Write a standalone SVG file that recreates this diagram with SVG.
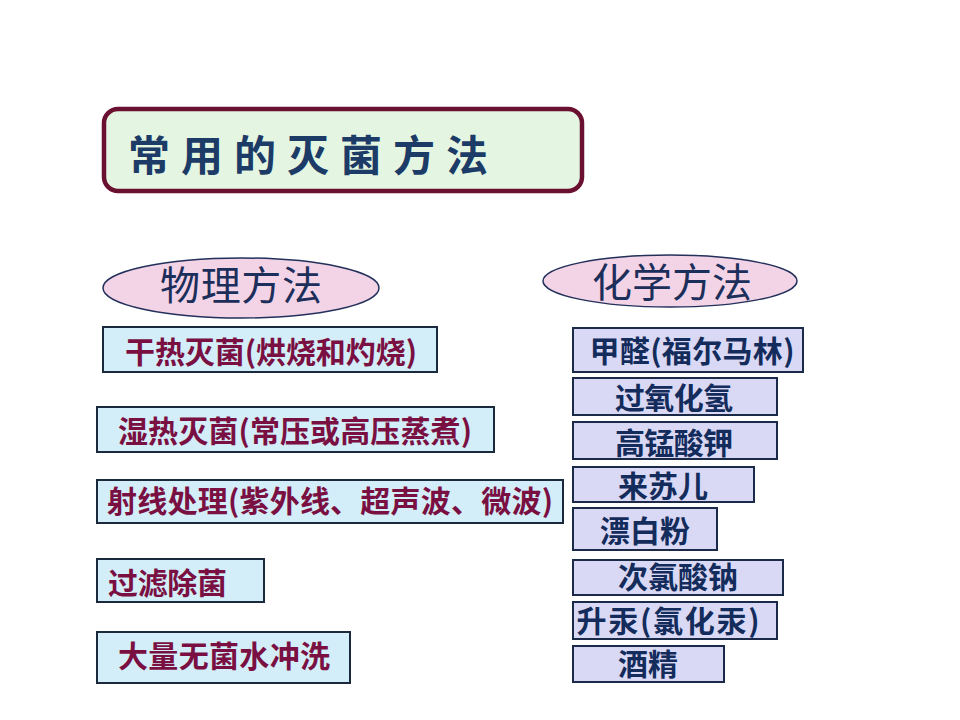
<svg xmlns="http://www.w3.org/2000/svg" width="960" height="720" viewBox="0 0 960 720">
<style>
text{font-family:"Noto Sans CJK SC","Noto Sans",sans-serif;}
.title{font-size:42px;font-weight:bold;fill:#1c3b66;}
.ell{fill:#f3d3e6;stroke:#22305a;stroke-width:1.5;}
.etxt{font-size:40px;fill:#1c2e5a;}
.lbox{fill:#d3edf9;stroke:#1a2a3c;stroke-width:2;}
.ltxt{font-size:30px;font-weight:bold;fill:#7a1042;}
.rbox{fill:#d9d9f5;stroke:#1a2a48;stroke-width:2;}
.rtxt{font-size:30px;font-weight:bold;fill:#142c5c;}
</style>
<rect width="960" height="720" fill="#ffffff"/>
<g id="title">
<rect x="104" y="109" width="478" height="82" rx="14" fill="#e4f6e2" stroke="#6a1030" stroke-width="4.5"/>
<text class="title" x="308" y="171" text-anchor="middle" textLength="360" lengthAdjust="spacing">常用的灭菌方法</text>
</g>
<g id="physical">
<ellipse class="ell" cx="241" cy="288" rx="138" ry="30"/>
<text class="etxt" x="241" y="300" text-anchor="middle" textLength="162" lengthAdjust="spacing">物理方法</text>
</g>
<g id="chemical">
<ellipse class="ell" cx="670" cy="281" rx="127" ry="26"/>
<text class="etxt" x="672" y="297" text-anchor="middle" textLength="160" lengthAdjust="spacing">化学方法</text>
</g>
<g id="l1"><rect class="lbox" x="103" y="327" width="334" height="45"/><text class="ltxt" x="271" y="363" text-anchor="middle" textLength="292" lengthAdjust="spacing">干热灭菌(烘烧和灼烧)</text></g>
<g id="l2"><rect class="lbox" x="97" y="407" width="397" height="45"/><text class="ltxt" x="295" y="442" text-anchor="middle" textLength="354" lengthAdjust="spacing">湿热灭菌(常压或高压蒸煮)</text></g>
<g id="l3"><rect class="lbox" x="97" y="480" width="466" height="43"/><text class="ltxt" x="330" y="512" text-anchor="middle" textLength="446" lengthAdjust="spacing">射线处理(紫外线、超声波、微波)</text></g>
<g id="l4"><rect class="lbox" x="97" y="559" width="167" height="43"/><text class="ltxt" x="108" y="594" textLength="119" lengthAdjust="spacing">过滤除菌</text></g>
<g id="l5"><rect class="lbox" x="97" y="632" width="253" height="51"/><text class="ltxt" x="224" y="667" text-anchor="middle" textLength="212" lengthAdjust="spacing">大量无菌水冲洗</text></g>
<g id="r1"><rect class="rbox" x="573" y="328" width="230" height="44"/><text class="rtxt" x="692" y="362" text-anchor="middle" textLength="205" lengthAdjust="spacing">甲醛(福尔马林)</text></g>
<g id="r2"><rect class="rbox" x="573" y="378" width="204" height="37"/><text class="rtxt" x="674" y="409" text-anchor="middle" textLength="118" lengthAdjust="spacing">过氧化氢</text></g>
<g id="r3"><rect class="rbox" x="573" y="422" width="204" height="37"/><text class="rtxt" x="674" y="454" text-anchor="middle" textLength="118" lengthAdjust="spacing">高锰酸钾</text></g>
<g id="r4"><rect class="rbox" x="573" y="467" width="181" height="35"/><text class="rtxt" x="663" y="497" text-anchor="middle" textLength="90" lengthAdjust="spacing">来苏儿</text></g>
<g id="r5"><rect class="rbox" x="573" y="508" width="144" height="42"/><text class="rtxt" x="645" y="542" text-anchor="middle" textLength="90" lengthAdjust="spacing">漂白粉</text></g>
<g id="r6"><rect class="rbox" x="573" y="560" width="210" height="35"/><text class="rtxt" x="678" y="588" text-anchor="middle" textLength="120" lengthAdjust="spacing">次氯酸钠</text></g>
<g id="r7"><rect class="rbox" x="573" y="602" width="204" height="37"/><text class="rtxt" x="668" y="632" text-anchor="middle" textLength="183" lengthAdjust="spacing">升汞(氯化汞)</text></g>
<g id="r8"><rect class="rbox" x="573" y="646" width="151" height="36"/><text class="rtxt" x="648" y="675" text-anchor="middle" textLength="60" lengthAdjust="spacing">酒精</text></g>
<g id="connectors"></g>
</svg>
